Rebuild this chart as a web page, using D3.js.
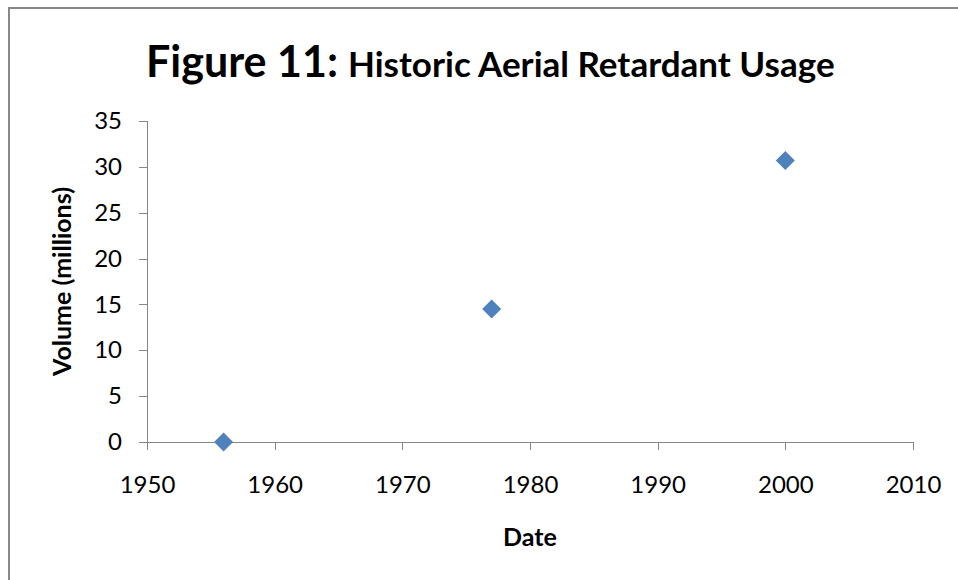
<!DOCTYPE html>
<html>
<head>
<meta charset="utf-8">
<script src="https://cdn.jsdelivr.net/npm/d3@7"></script>
<style>
    body { margin: 0; background: #fff; }
    svg { display: block; font-family: Lato, "Open Sans", sans-serif; }
    .axis path, .axis line { stroke: #868686; shape-rendering: crispEdges; }
    .axis text { fill: #000; font-size: 24px; font-family: Lato, "Open Sans", sans-serif; }
</style>
</head>
<body>
<div id="chart"></div>
<script>
// Historic aerial retardant usage (volume in millions)
const years = [1956, 1977, 2000];
const volumes = [0, 14.5, 30.7];
const xTicks = [1950, 1960, 1970, 1980, 1990, 2000, 2010];
const yTicks = [0, 5, 10, 15, 20, 25, 30, 35];

const W = 958, H = 580;
const margin = {top: 121, right: 45, bottom: 138, left: 147};

const svg = d3.select('#chart')
    .append('svg')
    .attr('width', W)
    .attr('height', H);

// Outer chart frame (runs off the right/bottom edge like the source)
svg.append('rect')
    .attr('x', 9).attr('y', 8)
    .attr('width', W + 10).attr('height', H + 10)
    .attr('fill', 'none')
    .attr('stroke', '#888')
    .attr('stroke-width', 2);

const x = d3.scaleLinear()
    .domain([1950, 2010])
    .range([margin.left, W - margin.right]);

const y = d3.scaleLinear()
    .domain([0, 35])
    .range([H - margin.bottom, margin.top]);

// X axis
svg.append('g')
    .attr('class', 'axis')
    .attr('transform', `translate(0,${y(0)})`)
    .call(d3.axisBottom(x).tickValues(xTicks).tickFormat(d3.format('d')).tickSize(8).tickPadding(26));

// Y axis
svg.append('g')
    .attr('class', 'axis')
    .attr('transform', `translate(${x(1950)},0)`)
    .call(d3.axisLeft(y).tickValues(yTicks).tickSize(8).tickPadding(17));

// Title
const title = svg.append('text')
    .attr('x', x(1950) - 1)
    .attr('y', 77)
    .attr('fill', '#000')
    .style('font-weight', 'bold');
title.append('tspan')
    .style('font-size', '43px')
    .text('Figure 11:');
title.append('tspan')
    .style('font-size', '35px')
    .attr('dx', 10)
    .text('Historic Aerial Retardant Usage');

// Axis labels
svg.append('text')
    .attr('x', (x(1950) + x(2010)) / 2)
    .attr('y', 546)
    .attr('text-anchor', 'middle')
    .style('font-size', '25px')
    .style('font-weight', 'bold')
    .text('Date');

svg.append('text')
    .attr('transform', `translate(71,${(y(0) + y(35)) / 2}) rotate(-90)`)
    .attr('text-anchor', 'middle')
    .style('font-size', '25px')
    .style('font-weight', 'bold')
    .text('Volume (millions)');

// Diamond markers
const diamond = d3.symbol().type(d3.symbolSquare).size(180);
svg.selectAll('.point')
    .data(years.map((yr, i) => ({year: yr, value: volumes[i]})))
    .enter()
    .append('path')
    .attr('class', 'point')
    .attr('d', diamond)
    .attr('transform', d => `translate(${x(d.year)},${y(d.value)}) rotate(45)`)
    .attr('fill', '#4F81BD');
</script>
</body>
</html>
